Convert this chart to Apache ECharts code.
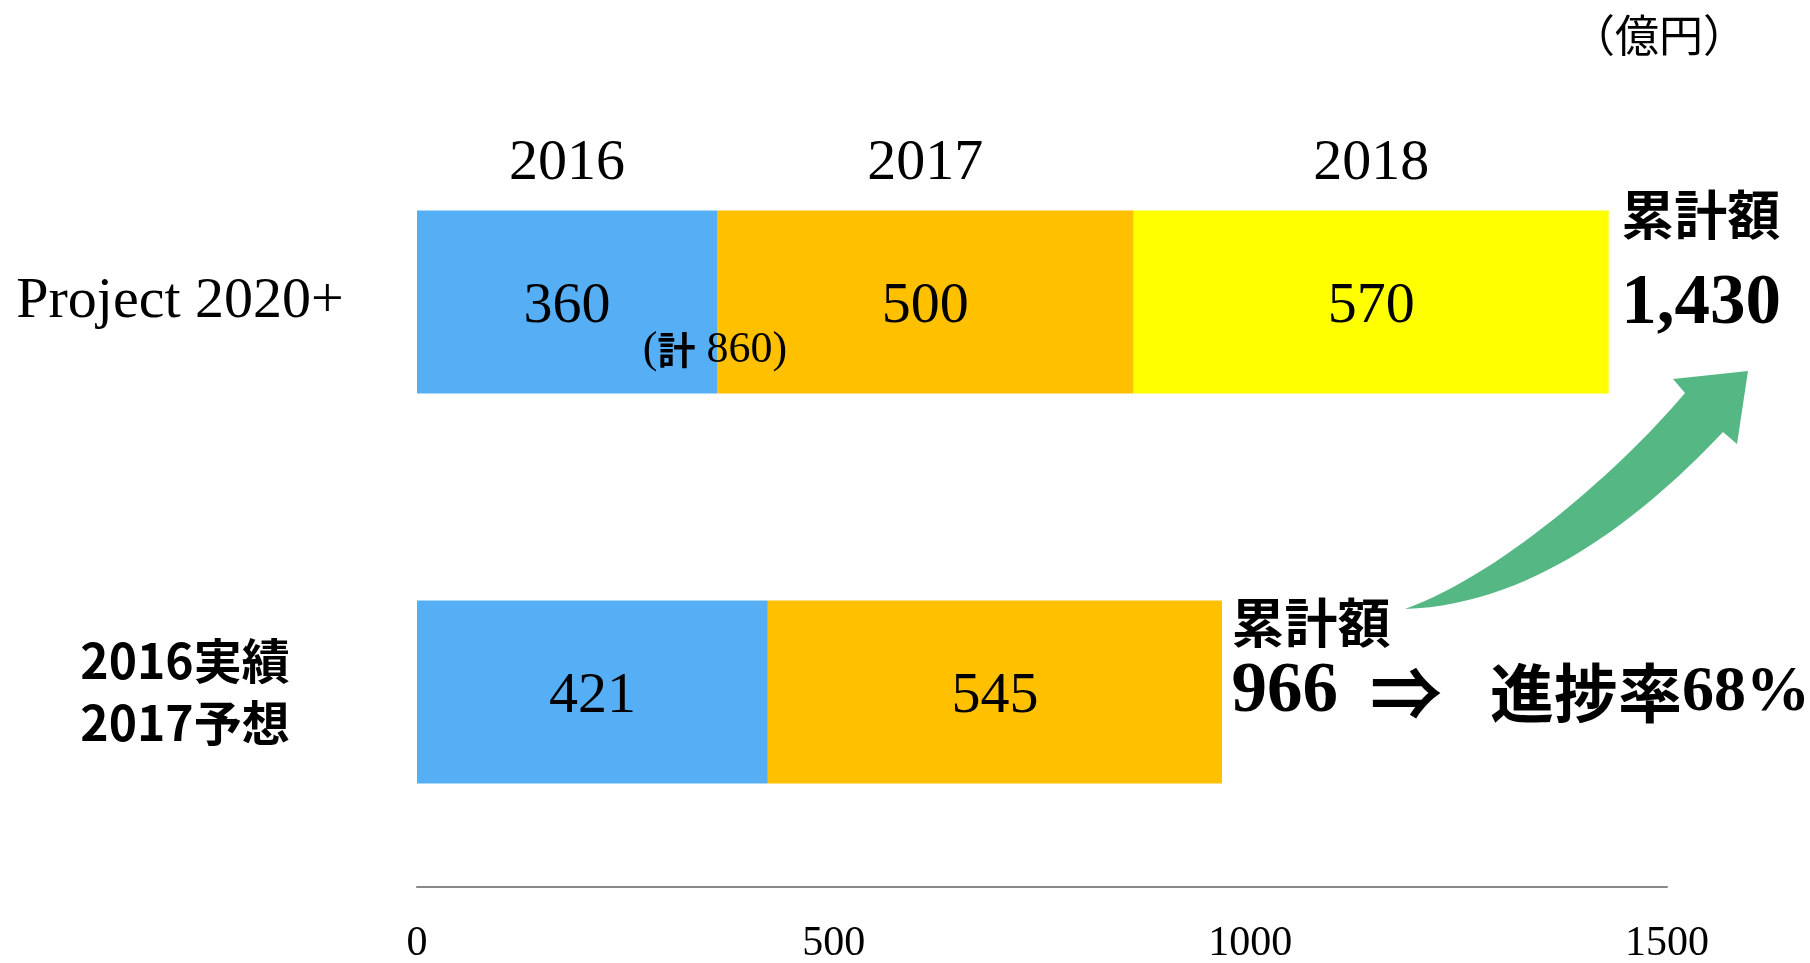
<!DOCTYPE html>
<html>
<head>
<meta charset="utf-8">
<script src="https://cdn.jsdelivr.net/npm/echarts@6/dist/echarts.min.js"></script>
<style>
	html, body { margin: 0; padding: 0; background: #fff; }
	#cn { width: 1810px; height: 963px; }
</style>
</head>
<body>
<div id="cn"></div>
<script>
'use strict';

// data
const CATEGORIES = ['Project 2020+', '2016実績\n2017予想'];
const YEARS = ['2016', '2017', '2018'];
const PLAN = [360, 500, 570];       // Project 2020+
const ACTUAL = [421, 545, '-'];     // 2016実績 / 2017予想
const X_TICKS = [0, 500, 1000, 1500];
const UNIT = '（億円）';

const COLORS = ['#56AFF5', '#FFC000', '#FFFF00'];
const SERIF = '"Liberation Serif", "DejaVu Serif", serif';
const GOTHIC = '"Noto Sans CJK JP", "Noto Sans", sans-serif';

const sum = arr => arr.filter(v => typeof v === 'number').reduce((a, b) => a + b, 0);
const planTotal = sum(PLAN);
const actualTotal = sum(ACTUAL);
const rate = Math.round(actualTotal / planTotal * 100);

// cubic bezier sampled into points (for the arrow outline)
const bezier = (p0, p1, p2, p3, n) => {
	let pts = [];
	for (let k = 0; k <= n; k++) {
		const t = k / n, u = 1 - t;
		pts.push([
			u * u * u * p0[0] + 3 * u * u * t * p1[0] + 3 * u * t * t * p2[0] + t * t * t * p3[0],
			u * u * u * p0[1] + 3 * u * u * t * p1[1] + 3 * u * t * t * p2[1] + t * t * t * p3[1]
		]);
	}
	return pts;
};

const arrowPoints = [
	...bezier([1405, 609], [1500, 575], [1620, 470], [1685, 393], 30),
	[1673, 379], [1748, 371], [1737, 444],
	...bezier([1723, 432], [1640, 520], [1530, 605], [1405, 609], 30)
];

const barSeries = YEARS.map((year, i) => ({
	name: year,
	type: 'bar',
	stack: 'amt',
	barWidth: 183,
	barGap: '-100%',
	data: [PLAN[i], ACTUAL[i]],
	itemStyle: { color: COLORS[i] },
	label: {
		show: true,
		position: 'inside',
		offset: [0, 5],
		color: '#000',
		fontFamily: SERIF,
		fontSize: 58
	}
}));

// transparent copies of the plan bar, only to hang the year names on top
const yearSeries = YEARS.map((year, i) => ({
	name: year,
	type: 'bar',
	stack: 'yr',
	barWidth: 183,
	barGap: '-100%',
	silent: true,
	data: [PLAN[i], '-'],
	itemStyle: { color: 'transparent' },
	label: {
		show: true,
		position: 'top',
		distance: 18,
		formatter: p => p.seriesName,
		color: '#000',
		fontFamily: SERIF,
		fontSize: 58
	}
}));

// (計 860) under the 2016/2017 border
barSeries[0].markPoint = {
	symbol: 'circle',
	symbolSize: 1,
	itemStyle: { color: 'transparent' },
	silent: true,
	data: [{
		coord: [PLAN[0], CATEGORIES[0]],
		label: {
			show: true,
			position: 'inside',
			offset: [-2, 48],
			formatter: `{p|(}{k|計}{p| ${PLAN[0] + PLAN[1]})}`,
			rich: {
				p: { fontFamily: SERIF, fontSize: 44, color: '#000' },
				k: { fontFamily: GOTHIC, fontWeight: 'bold', fontSize: 38, color: '#000' }
			}
		}
	}]
};

// totals at the end of each bar
const totalRich = {
	t: { fontFamily: GOTHIC, fontWeight: 'bold', fontSize: 53, color: '#000' },
	v: { fontFamily: SERIF, fontWeight: 'bold', fontSize: 71, color: '#000' },
	p: { fontFamily: SERIF, fontWeight: 'bold', fontSize: 64, color: '#000' },
	a: { fontFamily: GOTHIC, fontWeight: 'bold', fontSize: 72, color: '#000', padding: [0, 48, 0, 32] },
	k: { fontFamily: GOTHIC, fontWeight: 'bold', fontSize: 64, color: '#000' }
};

barSeries[2].markPoint = {
	symbol: 'circle',
	symbolSize: 1,
	itemStyle: { color: 'transparent' },
	silent: true,
	data: [{
		coord: [planTotal, CATEGORIES[0]],
		label: {
			show: true,
			position: 'right',
			distance: 12,
			offset: [0, -42],
			lineHeight: 90,
			formatter: `{t|累計額}\n{v|${planTotal.toLocaleString('en-US')}}`,
			rich: totalRich
		}
	}, {
		coord: [actualTotal, CATEGORIES[1]],
		label: {
			show: true,
			position: 'right',
			distance: 9,
			offset: [0, -34],
			lineHeight: 70,
			formatter: `{t|累計額}\n{v|${actualTotal}}{a|⇒}{k|進捗率}{p|${rate}%}`,
			rich: totalRich
		}
	}]
};

const chart = echarts.init(document.getElementById('cn'));

chart.setOption({
	animation: false,
	backgroundColor: '#fff',
	title: {
		text: UNIT,
		left: 1566,
		top: 8,
		textStyle: {
			fontFamily: GOTHIC,
			fontWeight: 'normal',
			fontSize: 44,
			color: '#000'
		}
	},
	grid: {
		left: 417,
		right: 143,
		top: 107,
		bottom: 76,
		containLabel: false,
		outerBoundsMode: 'none'
	},
	xAxis: {
		type: 'value',
		min: X_TICKS[0],
		max: X_TICKS[X_TICKS.length - 1],
		interval: X_TICKS[1] - X_TICKS[0],
		axisLine: { show: true, lineStyle: { color: '#888', width: 2 } },
		axisTick: { show: false },
		splitLine: { show: false },
		axisLabel: {
			margin: 36,
			formatter: v => String(v),
			color: '#000',
			fontFamily: SERIF,
			fontSize: 42
		}
	},
	yAxis: {
		type: 'category',
		inverse: true,
		data: CATEGORIES,
		axisLine: { show: false },
		axisTick: { show: false },
		axisLabel: {
			margin: 237,
			align: 'center',
			formatter: v => v === CATEGORIES[0] ?
				`{p|${v}}` : v.split('\n').map(s => `{j|${s}}`).join('\n'),
			rich: {
				p: { fontFamily: SERIF, fontSize: 58, color: '#000' },
				j: { fontFamily: GOTHIC, fontWeight: 'bold', fontSize: 48, lineHeight: 62, color: '#000', padding: [0, 0, 0, 10] }
			}
		}
	},
	graphic: [{
		// green curved arrow (decoration)
		type: 'polygon',
		silent: true,
		shape: { points: arrowPoints },
		style: { fill: '#55B884' }
	}],
	series: [...barSeries, ...yearSeries]
});
</script>
</body>
</html>
